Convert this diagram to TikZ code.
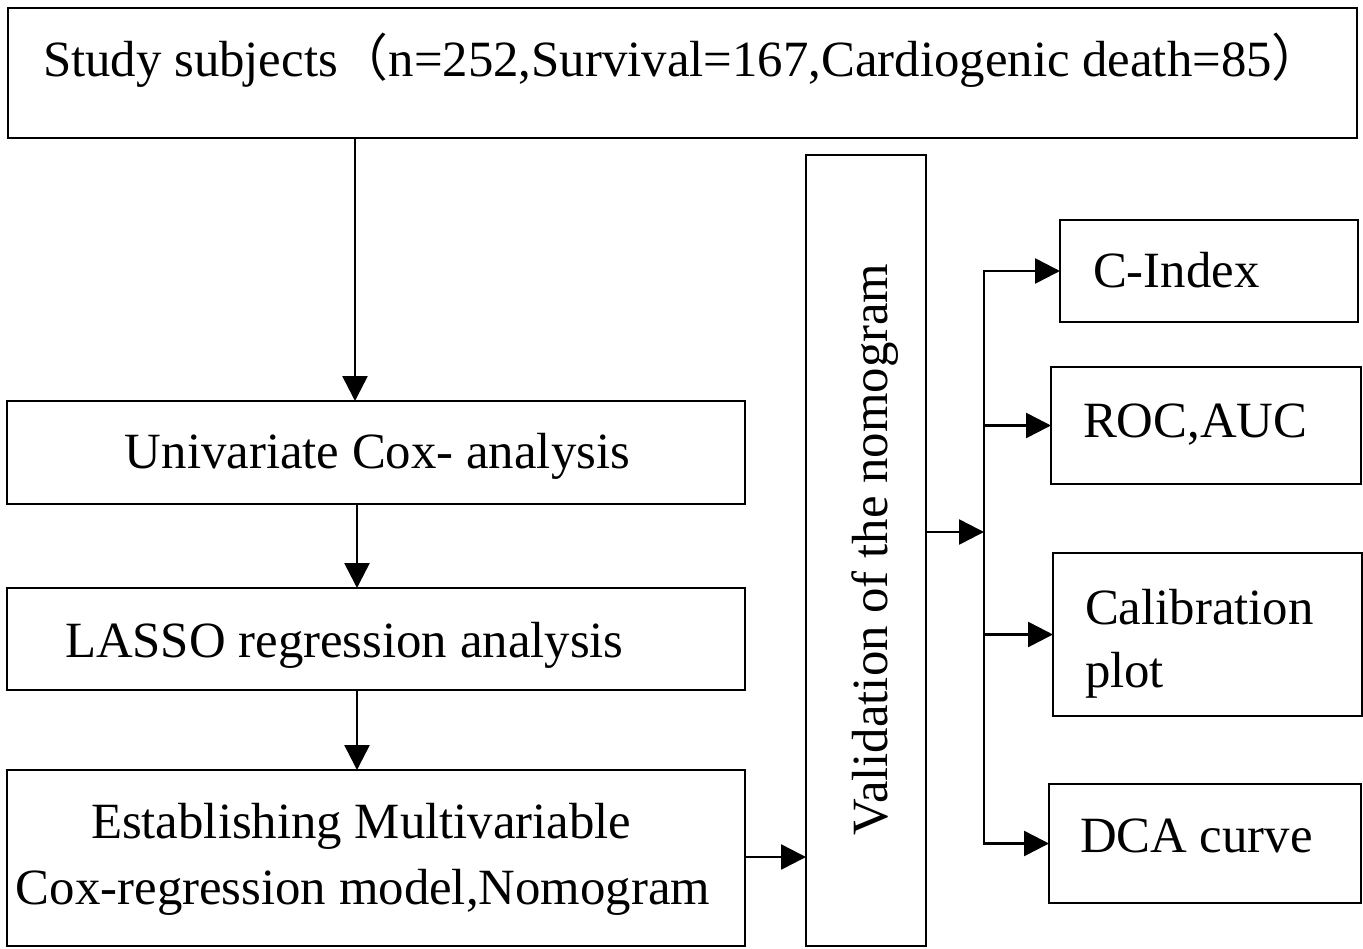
\documentclass[tikz,border=0pt]{standalone}
\usepackage{fontspec}
\setmainfont{Liberation Serif}
\newfontfamily\cjk{Noto Sans CJK SC}
\usetikzlibrary{arrows.meta}

\begin{document}
\begin{tikzpicture}[x=1pt,y=-1pt,
  box/.style={draw, line width=2.8pt, anchor=north west, inner sep=0pt, outer sep=0pt},
  txt/.style={font=\fontsize{50.8}{60}\selectfont, inner sep=0pt, outer sep=0pt},
  conn/.style={line width=2.6pt, -{Triangle[length=25pt,width=25pt]}},
  bus/.style={line width=2.6pt, line cap=rect}]
\useasboundingbox (0,0) rectangle (1363,948);

% boxes
\node[box, minimum width=1349pt, minimum height=130pt] (top)   at (8,8)      {};
\node[box, minimum width=738pt,  minimum height=103pt] (uni)   at (7,401)    {};
\node[box, minimum width=738pt,  minimum height=102pt] (lasso) at (7,588)    {};
\node[box, minimum width=738pt,  minimum height=176pt] (est)   at (7,770)    {};
\node[box, minimum width=120pt,  minimum height=791pt] (val)   at (806,155)  {};
\node[box, minimum width=298pt,  minimum height=102pt] (cidx)  at (1060,220) {};
\node[box, minimum width=310pt,  minimum height=117pt] (roc)   at (1051,367) {};
\node[box, minimum width=309pt,  minimum height=163pt] (cal)   at (1053,553) {};
\node[box, minimum width=312pt,  minimum height=119pt] (dca)   at (1049,784) {};

% texts
\node[txt, anchor=base west] (top-t) at (43,76)
  {Study subjects{\cjk （}n=252,Survival=167,Cardiogenic death=85{\cjk ）}};
\node[txt, anchor=base] (uni-t) at (377.5,468) {Univariate Cox- analysis};
\node[txt, anchor=base west] (lasso-t) at (65,657) {LASSO regression analysis};
\node[txt, anchor=base west] (est-t1) at (91,838) {Establishing Multivariable};
\node[txt, anchor=base west] (est-t2) at (16,904) {Cox-regression model,Nomogram};
\node[txt, anchor=base west, rotate=90] (val-t) at (887,835) {Validation of the nomogram};
\node[txt, anchor=base west] (cidx-t) at (1093,287) {C-Index};
\node[txt, anchor=base west] (roc-t) at (1083,437) {ROC,AUC};
\node[txt, anchor=base west] (cal-t1) at (1085,624) {Calibration};
\node[txt, anchor=base west] (cal-t2) at (1085,687) {plot};
\node[txt, anchor=base west] (dca-t) at (1080,852) {DCA curve};

% helper positions
\coordinate (xa) at (355,0);
\coordinate (xb) at (357,0);
\coordinate (ya) at (0,857);
\coordinate (yb) at (0,532);
\coordinate (busx) at (984,0);

% connectors
\draw[conn] (top.south -| xa) -- (uni.north -| xa);
\draw[conn] (uni.south -| xb) -- (lasso.north -| xb);
\draw[conn] (lasso.south -| xb) -- (est.north -| xb);
\draw[conn] (est.east |- ya) -- (val.west |- ya);
\draw[conn] (val.east |- yb) -- (busx |- yb);
\draw[bus] (busx |- cidx.west) -- (busx |- dca.west);
\draw[conn] (busx |- cidx.west) -- (cidx.west);
\draw[conn] (busx |- roc.west) -- (roc.west);
\draw[conn] (busx |- cal.west) -- (cal.west);
\draw[conn] (busx |- dca.west) -- (dca.west);
\end{tikzpicture}
\end{document}
